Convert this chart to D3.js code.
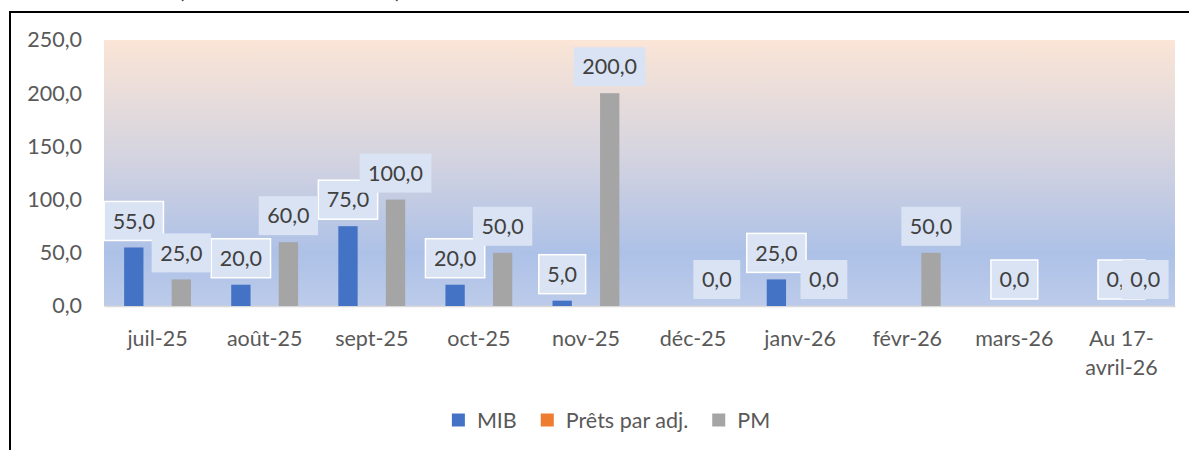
<!DOCTYPE html>
<html>
<head>
<meta charset="utf-8">
<script src="https://cdn.jsdelivr.net/npm/d3@7"></script>
<style>
  html, body { margin: 0; padding: 0; background: #ffffff; }
  svg { display: block; }
</style>
</head>
<body>
<svg id="chart" width="1189" height="450"></svg>
<script>
// ---- data ----
const categories = ["juil-25", "août-25", "sept-25", "oct-25", "nov-25", "déc-25", "janv-26", "févr-26", "mars-26", "Au 17-avril-26"];
const seriesNames = ["MIB", "Prêts par adj.", "PM"];
const mibValues   = [55, 20, 75, 20, 5, null, 25, null, null, null];
const pretsValues = [null, null, null, null, null, null, null, null, 0, 0];
const pmValues    = [25, 60, 100, 50, 200, 0, 0, 50, null, 0];
const yTicks = [0, 50, 100, 150, 200, 250];

// ---- styles ----
const seriesColors = ["#4472c4", "#ed7d31", "#a5a5a5"];
const labelBorder = [true, true, false];
const FONT = "Lato, 'Open Sans', sans-serif";
const FS = 21.5;

const seriesValues = [mibValues, pretsValues, pmValues];
const locale = d3.formatLocale({decimal: ",", thousands: " ", grouping: [3], currency: ["", ""]});
const fmt = locale.format(".1f");

const svg = d3.select("#chart");

// outer frame (clipped by the picture on the right and bottom)
svg.append("rect").attr("x", 10).attr("y", 12).attr("width", 1300).attr("height", 600)
  .attr("fill", "#ffffff").attr("stroke", "#000000").attr("stroke-width", 2);

// clipped title remnants
svg.append("text").attr("x", 178).attr("y", -2).attr("font-family", FONT).attr("font-size", 24)
  .attr("fill", "#404040").text("(");
svg.append("text").attr("x", 395).attr("y", -2).attr("font-family", FONT).attr("font-size", 24)
  .attr("fill", "#404040").text(")");

// scales
const x0 = d3.scaleBand().domain(categories).range([104, 1175]).paddingInner(0.376).paddingOuter(0.188);
const x1 = d3.scaleBand().domain(seriesNames).range([0, x0.bandwidth()]).paddingInner(0.187).paddingOuter(0);
const y = d3.scaleLinear().domain([0, 250]).range([306, 40]);

// gradient plot area
const defs = svg.append("defs");
const grad = defs.append("linearGradient").attr("id", "bg").attr("x1", 0).attr("y1", 0).attr("x2", 0).attr("y2", 1);
[[0, "#fbe5d6"], [0.45, "#d3d3e0"], [0.8, "#adc1e7"], [1, "#bccbea"]].forEach(([o, c]) =>
  grad.append("stop").attr("offset", o).attr("stop-color", c));
const [rx0, rx1] = x0.range();
svg.append("rect").attr("x", rx0).attr("y", y(250)).attr("width", rx1 - rx0).attr("height", y(0) - y(250))
  .attr("fill", "url(#bg)");

// y axis labels
const yAxis = d3.axisLeft(y).tickValues(yTicks).tickFormat(fmt).tickSize(0).tickPadding(0);
const gy = svg.append("g").attr("transform", "translate(82,0)").call(yAxis);
gy.select(".domain").remove();
gy.selectAll("text").attr("font-family", FONT).attr("font-size", FS).attr("fill", "#595959");

// x axis
const xAxis = d3.axisBottom(x0).tickSize(0).tickPadding(0).tickFormat("");
const gx = svg.append("g").attr("transform", `translate(0,${y(0)})`).call(xAxis);
gx.select(".domain").attr("stroke", "#d9d9d9").attr("stroke-width", 1.5);

// category labels with wrapping
const measurer = svg.append("text").attr("font-family", FONT).attr("font-size", FS).attr("visibility", "hidden");
function tw(s) { measurer.text(s); return measurer.node().getComputedTextLength(); }
function wrapLabel(s, maxW) {
  const tokens = s.match(/[^-\s]+[-\s]?/g) || [s];
  const lines = [];
  let cur = "";
  tokens.forEach(t => {
    if (cur && tw((cur + t).trim()) > maxW) { lines.push(cur.trim()); cur = t; }
    else cur += t;
  });
  if (cur) lines.push(cur.trim());
  return lines;
}
categories.forEach(c => {
  const lines = wrapLabel(c, x0.step() - 6);
  const t = svg.append("text").attr("x", x0(c) + x0.bandwidth() / 2).attr("y", 346)
    .attr("text-anchor", "middle").attr("font-family", FONT).attr("font-size", FS).attr("fill", "#595959");
  lines.forEach((l, i) => t.append("tspan").attr("x", x0(c) + x0.bandwidth() / 2).attr("dy", i === 0 ? 0 : 29).text(l));
});

// bars
seriesNames.forEach((s, si) => {
  const vals = seriesValues[si];
  svg.append("g").selectAll("rect")
    .data(categories.map((c, i) => ({c, v: vals[i]})).filter(d => d.v !== null && d.v > 0))
    .join("rect")
    .attr("x", d => x0(d.c) + x1(s))
    .attr("y", d => y(d.v))
    .attr("width", x1.bandwidth())
    .attr("height", d => y(0) - y(d.v))
    .attr("fill", seriesColors[si]);
});

// data labels
seriesNames.forEach((s, si) => {
  const vals = seriesValues[si];
  categories.forEach((c, i) => {
    const v = vals[i];
    if (v === null) return;
    const txt = fmt(v);
    const w = tw(txt) + 17;
    const h = 39;
    const cx = x0(c) + x1(s) + x1.bandwidth() / 2;
    const bottom = y(v) - 7;
    const g = svg.append("g");
    g.append("rect").attr("x", cx - w / 2).attr("y", bottom - h).attr("width", w).attr("height", h)
      .attr("fill", "#dae3f3")
      .attr("stroke", labelBorder[si] ? "#ffffff" : "none").attr("stroke-width", 1.5);
    g.append("text").attr("x", cx).attr("y", bottom - h / 2).attr("dy", "0.36em")
      .attr("text-anchor", "middle").attr("font-family", FONT).attr("font-size", FS)
      .attr("fill", "#404040").text(txt);
  });
});

// legend
const legendItems = seriesNames.map((s, i) => ({s, c: seriesColors[i], w: 13 + 12 + tw(s)}));
const gap = 24;
const totalW = d3.sum(legendItems, d => d.w) + gap * (legendItems.length - 1);
let lx = 611 - totalW / 2;
const legend = svg.append("g");
legendItems.forEach(d => {
  legend.append("rect").attr("x", lx).attr("y", 413.5).attr("width", 13).attr("height", 13).attr("fill", d.c);
  legend.append("text").attr("x", lx + 25).attr("y", 420).attr("dy", "0.36em")
    .attr("font-family", FONT).attr("font-size", FS).attr("fill", "#595959").text(d.s);
  lx += d.w + gap;
});
measurer.remove();
</script>
</body>
</html>
